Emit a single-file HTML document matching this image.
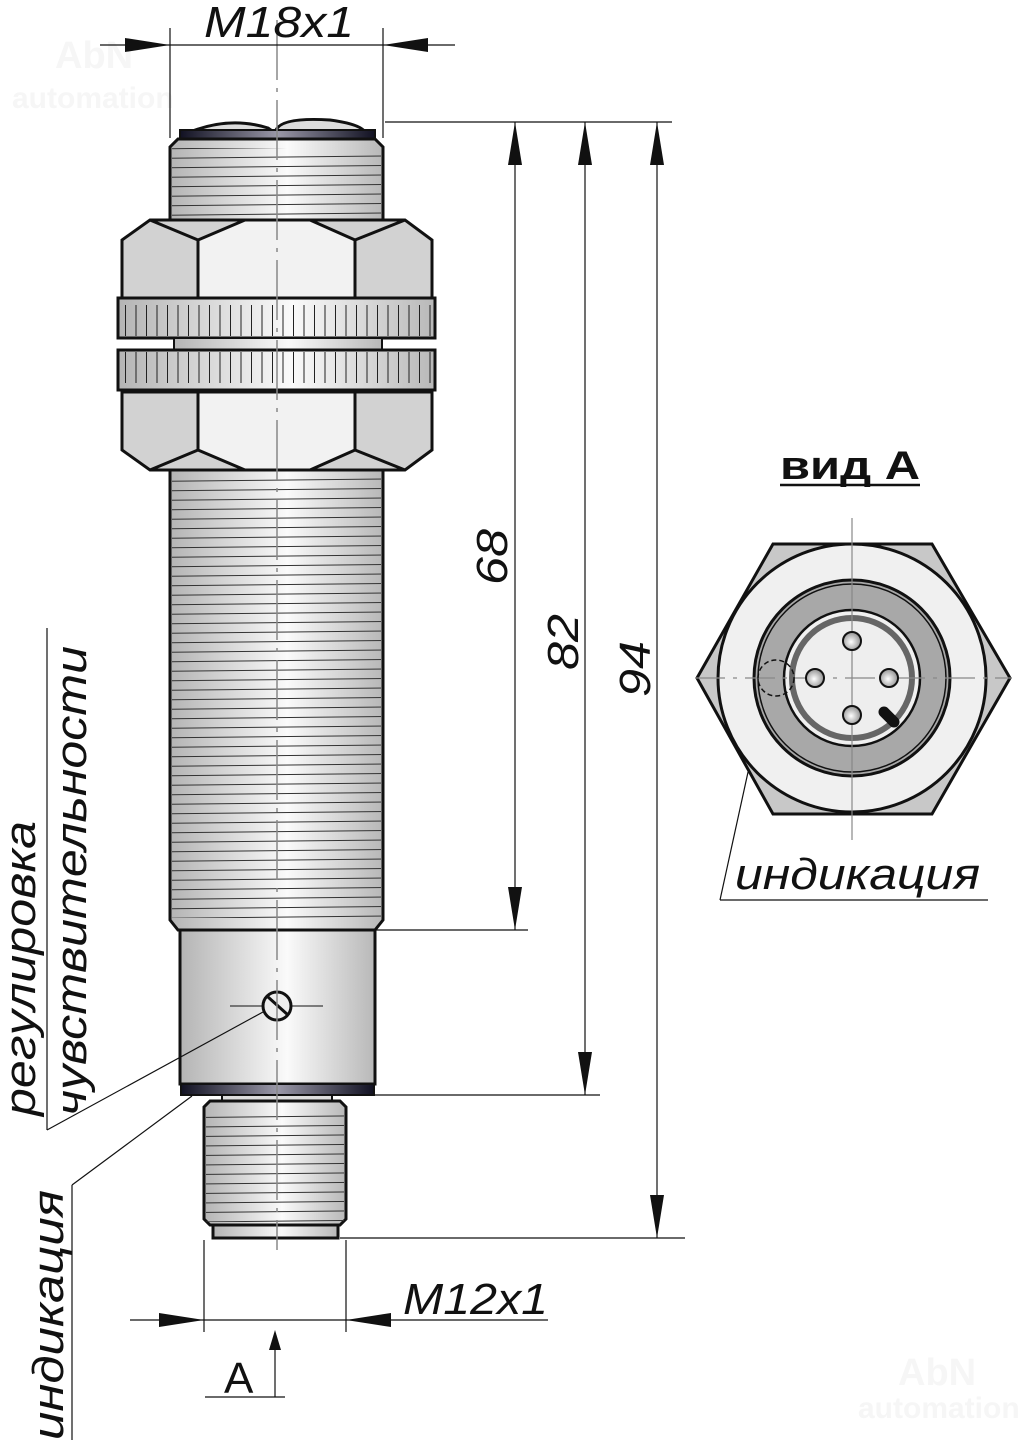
<!DOCTYPE html>
<html><head><meta charset="utf-8"><style>
html,body{margin:0;padding:0;background:#fff;}
svg{display:block;}
text{font-family:"Liberation Sans",sans-serif;}
</style></head><body>
<svg width="1026" height="1446" viewBox="0 0 1026 1446" xmlns="http://www.w3.org/2000/svg">
<defs>
<linearGradient id="cyl" x1="0" x2="1" y1="0" y2="0">
<stop offset="0" stop-color="#b4b4b4"/><stop offset="0.55" stop-color="#fafafa"/><stop offset="1" stop-color="#b8b8b8"/>
</linearGradient>
<linearGradient id="dark" x1="0" x2="1">
<stop offset="0" stop-color="#111122"/><stop offset="0.5" stop-color="#9a98a8"/><stop offset="1" stop-color="#111122"/>
</linearGradient>
<pattern id="thr" width="20" height="9.5" patternUnits="userSpaceOnUse" patternTransform="rotate(-0.6)">
<line x1="0" y1="8" x2="20" y2="8" stroke="#333" stroke-width="1"/>
</pattern>
<pattern id="knurl" width="10.5" height="40" patternUnits="userSpaceOnUse">
<line x1="10" y1="0" x2="10" y2="40" stroke="#222" stroke-width="1"/>
</pattern>
<radialGradient id="pin" cx="0.45" cy="0.55" r="0.6"><stop offset="0" stop-color="#fff"/><stop offset="1" stop-color="#888"/></radialGradient>
</defs>

<!-- watermarks -->
<text x="55" y="68" font-size="38" font-weight="bold" fill="#f6f6f6">AbN</text>
<text x="12" y="108" font-size="30" font-weight="bold" fill="#f6f6f6">automation</text>
<text x="898" y="1385" font-size="38" font-weight="bold" fill="#f6f6f6">AbN</text>
<text x="858" y="1418" font-size="30" font-weight="bold" fill="#f6f6f6">automation</text>

<!-- top cap -->
<path d="M190 132 Q230 116 268 128 Q276 134 276 130 Q282 117 330 120 Q360 124 365 132 Z" fill="#ddd" stroke="#111" stroke-width="3"/>
<rect x="180" y="130" width="195" height="9" fill="url(#dark)" stroke="#111" stroke-width="2"/>
<path d="M178 139 L375 139 L383 147 L383 220 L170 220 L170 147 Z" fill="url(#cyl)" stroke="#111" stroke-width="3"/>
<rect x="172" y="148" width="209" height="70" fill="url(#thr)"/>
<path d="M150 220 L405 220 L432 240 L432 298 L122 298 L122 240 Z" fill="#d2d2d2" stroke="#111" stroke-width="3"/>
<path d="M198 240 L245 220 L310 220 L355 240 L355 298 L198 298 Z" fill="#f2f2f2" stroke="#111" stroke-width="3"/>
<line x1="150" y1="220" x2="198" y2="240" stroke="#111" stroke-width="3"/>
<line x1="405" y1="220" x2="355" y2="240" stroke="#111" stroke-width="3"/>
<rect x="118" y="298" width="317" height="40" fill="url(#cyl)" stroke="#111" stroke-width="3"/>
<rect x="120" y="305" width="313" height="31" fill="url(#knurl)"/>
<rect x="174" y="338" width="208" height="12" fill="url(#cyl)" stroke="#111" stroke-width="2"/>
<rect x="118" y="350" width="317" height="40" fill="url(#cyl)" stroke="#111" stroke-width="3"/>
<rect x="120" y="352" width="313" height="31" fill="url(#knurl)"/>
<path d="M122 392 L432 392 L432 450 L405 470 L150 470 L122 450 Z" fill="#d2d2d2" stroke="#111" stroke-width="3"/>
<path d="M198 392 L355 392 L355 450 L310 470 L245 470 L198 450 Z" fill="#f2f2f2" stroke="#111" stroke-width="3"/>
<line x1="150" y1="470" x2="198" y2="450" stroke="#111" stroke-width="3"/>
<line x1="405" y1="470" x2="355" y2="450" stroke="#111" stroke-width="3"/>
<path d="M170 470 L383 470 L383 920 L375 930 L178 930 L170 920 Z" fill="url(#cyl)" stroke="#111" stroke-width="3"/>
<rect x="172" y="474" width="209" height="444" fill="url(#thr)"/>
<rect x="180" y="930" width="195" height="154" fill="url(#cyl)" stroke="#111" stroke-width="3"/>
<rect x="181" y="1084" width="193" height="11" fill="url(#dark)" stroke="#111" stroke-width="2"/>
<rect x="222" y="1095" width="110" height="6" fill="#ddd" stroke="#111" stroke-width="2"/>
<path d="M210 1101 L340 1101 L346 1107 L346 1219 L340 1225 L210 1225 L204 1219 L204 1107 Z" fill="url(#cyl)" stroke="#111" stroke-width="3"/>
<rect x="206" y="1110" width="138" height="112" fill="url(#thr)"/>
<rect x="213" y="1225" width="125" height="13" fill="url(#cyl)" stroke="#111" stroke-width="3"/>
<line x1="230" y1="1006" x2="323" y2="1006" stroke="#111" stroke-width="1"/>
<circle cx="277" cy="1006" r="14" fill="#eee" stroke="#111" stroke-width="3"/>
<line x1="268" y1="997" x2="288" y2="1015" stroke="#111" stroke-width="3"/>
<line x1="277" y1="20" x2="277" y2="1250" stroke="#888" stroke-width="1.5" stroke-dasharray="60 8 4 8"/>

<g stroke="#111" stroke-width="1.2" fill="none">
<line x1="170" y1="28" x2="170" y2="138"/><line x1="383" y1="28" x2="383" y2="138"/>
<line x1="100" y1="45" x2="455" y2="45"/>
<line x1="385" y1="122" x2="672" y2="122"/>
<line x1="375" y1="930" x2="528" y2="930"/>
<line x1="375" y1="1095" x2="600" y2="1095"/>
<line x1="340" y1="1238" x2="685" y2="1238"/>
<line x1="515" y1="122" x2="515" y2="930"/>
<line x1="585" y1="122" x2="585" y2="1095"/>
<line x1="657" y1="122" x2="657" y2="1238"/>
<line x1="204" y1="1240" x2="204" y2="1332"/><line x1="346" y1="1240" x2="346" y2="1332"/>
<line x1="130" y1="1320" x2="548" y2="1320"/>
<line x1="205" y1="1397" x2="285" y2="1397"/>
<line x1="275" y1="1397" x2="275" y2="1345"/>
<line x1="47" y1="628" x2="47" y2="1130"/><line x1="47" y1="1130" x2="263" y2="1012"/>
<line x1="72" y1="1185" x2="72" y2="1440"/><line x1="72" y1="1185" x2="192" y2="1096"/>
<line x1="720" y1="900" x2="988" y2="900"/><line x1="720" y1="900" x2="766" y2="690"/>
</g>
<g fill="#111">
<path d="M170 45 L125 38 L125 52 Z"/><path d="M383 45 L428 38 L428 52 Z"/>
<path d="M515 122 L508 165 L522 165 Z"/><path d="M515 930 L508 887 L522 887 Z"/>
<path d="M585 122 L578 165 L592 165 Z"/><path d="M585 1095 L578 1052 L592 1052 Z"/>
<path d="M657 122 L650 165 L664 165 Z"/><path d="M657 1238 L650 1195 L664 1195 Z"/>
<path d="M204 1320 L159 1313 L159 1327 Z"/><path d="M346 1320 L391 1313 L391 1327 Z"/>
<path d="M275 1330 L269 1350 L281 1350 Z"/>
</g>
<g font-style="italic" font-size="44" fill="#111" lengthAdjust="spacingAndGlyphs">
<text x="204" y="37" textLength="150" lengthAdjust="spacingAndGlyphs">M18x1</text>
<text x="403" y="1314" textLength="145" lengthAdjust="spacingAndGlyphs">M12x1</text>
<text transform="translate(507 585) rotate(-90)" textLength="56" lengthAdjust="spacingAndGlyphs">68</text>
<text transform="translate(578 670) rotate(-90)" textLength="56" lengthAdjust="spacingAndGlyphs">82</text>
<text transform="translate(650 697) rotate(-90)" textLength="56" lengthAdjust="spacingAndGlyphs">94</text>
<text transform="translate(35 1116) rotate(-90)" textLength="295" lengthAdjust="spacingAndGlyphs">регулировка</text>
<text transform="translate(86 1116) rotate(-90)" textLength="470" lengthAdjust="spacingAndGlyphs">чувствительности</text>
<text transform="translate(63 1440) rotate(-90)" textLength="250" lengthAdjust="spacingAndGlyphs">индикация</text>
<text x="735" y="889" textLength="245" lengthAdjust="spacingAndGlyphs">индикация</text>
</g>
<text x="224" y="1393" font-size="44" fill="#111">A</text>
<text x="780" y="479" font-size="40" font-weight="bold" fill="#111" textLength="140" lengthAdjust="spacingAndGlyphs">вид A</text>
<line x1="780" y1="485" x2="920" y2="485" stroke="#111" stroke-width="2.5"/>

<polygon points="697,678 773,544 932,544 1010,678 932,814 773,814" fill="#c8c8c8" stroke="#111" stroke-width="3"/>
<circle cx="852" cy="678" r="134" fill="#f0f0f0" stroke="#111" stroke-width="3"/>
<circle cx="852" cy="678" r="98" fill="#a8a8a8" stroke="#111" stroke-width="3"/>
<circle cx="852" cy="678" r="94" fill="none" stroke="#111" stroke-width="1.5"/>
<circle cx="852" cy="678" r="68" fill="#f0f0f0" stroke="#111" stroke-width="2.5"/>
<circle cx="852" cy="678" r="60" fill="#eee" stroke="#666" stroke-width="6"/>
<g stroke="#888" stroke-width="1.2">
<line x1="852" y1="518" x2="852" y2="840"/><line x1="695" y1="678" x2="1012" y2="678" stroke-dasharray="30 8 4 8"/>
</g>
<g stroke="#111" stroke-width="2" fill="url(#pin)">
<circle cx="852" cy="641" r="9"/><circle cx="815" cy="678" r="9"/><circle cx="889" cy="678" r="9"/><circle cx="852" cy="715" r="9"/>
</g>
<line x1="884" y1="712" x2="894" y2="722" stroke="#111" stroke-width="11" stroke-linecap="round"/>
<circle cx="776" cy="678" r="18" fill="none" stroke="#111" stroke-width="1.5" stroke-dasharray="5 3"/>
</svg>
</body></html>
